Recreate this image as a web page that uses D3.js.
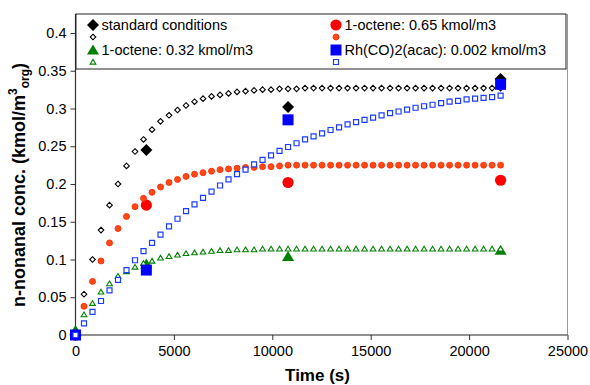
<!DOCTYPE html>
<html>
<head>
<meta charset="utf-8">
<script src="https://cdn.jsdelivr.net/npm/d3@7"></script>
<style>
  body { margin: 0; background: #fff; }
  svg { display: block; font-family: "Liberation Sans", Arial, sans-serif; }
</style>
</head>
<body>
<svg id="chart" width="590" height="385"></svg>
<script>
// measured points (large markers)
const expTime = [0, 3600, 10800, 21600];
const expStandard = [0, 0.245, 0.302, 0.339];
const expOct065 = [0, 0.172, 0.202, 0.205];
const expOct032 = [0.006, 0.094, 0.104, 0.112];
const expRh = [0, 0.086, 0.285, 0.332];

// model points (small markers)
const modelTime = [0, 432, 864, 1296, 1728, 2160, 2592, 3024, 3456, 3888,
  4320, 4752, 5184, 5616, 6048, 6480, 6912, 7344, 7776, 8208,
  8640, 9072, 9504, 9936, 10368, 10800, 11232, 11664, 12096, 12528,
  12960, 13392, 13824, 14256, 14688, 15120, 15552, 15984, 16416, 16848,
  17280, 17712, 18144, 18576, 19008, 19440, 19872, 20304, 20736, 21168, 21600];
const modelStandard = [0, 0.054, 0.100, 0.139, 0.172, 0.200, 0.224, 0.243, 0.259, 0.272,
  0.283, 0.291, 0.298, 0.304, 0.309, 0.313, 0.316, 0.318, 0.320, 0.322,
  0.323, 0.324, 0.325, 0.325, 0.326, 0.326, 0.326, 0.327, 0.327, 0.327,
  0.327, 0.327, 0.327, 0.327, 0.327, 0.327, 0.327, 0.327, 0.327, 0.327,
  0.327, 0.327, 0.327, 0.327, 0.327, 0.327, 0.327, 0.327, 0.327, 0.327, 0.327];
const modelOct065 = [0, 0.038, 0.071, 0.098, 0.122, 0.141, 0.157, 0.170, 0.181, 0.189,
  0.196, 0.202, 0.206, 0.210, 0.213, 0.215, 0.217, 0.219, 0.220, 0.221,
  0.222, 0.222, 0.223, 0.223, 0.224, 0.225, 0.225, 0.225, 0.225, 0.225,
  0.225, 0.225, 0.225, 0.225, 0.225, 0.225, 0.225, 0.225, 0.225, 0.225,
  0.225, 0.225, 0.225, 0.225, 0.225, 0.225, 0.225, 0.225, 0.225, 0.225, 0.225];
const modelOct032 = [0, 0.027, 0.042, 0.057, 0.068, 0.078, 0.084, 0.090, 0.095, 0.098,
  0.102, 0.104, 0.106, 0.108, 0.109, 0.110, 0.111, 0.112, 0.112, 0.113,
  0.113, 0.113, 0.114, 0.114, 0.114, 0.114, 0.114, 0.114, 0.114, 0.114,
  0.114, 0.114, 0.114, 0.114, 0.114, 0.114, 0.114, 0.114, 0.114, 0.114,
  0.114, 0.114, 0.114, 0.114, 0.114, 0.114, 0.114, 0.114, 0.114, 0.114, 0.114];
const modelRh = [0, 0.0155, 0.0305, 0.045, 0.059, 0.073, 0.086, 0.099, 0.111, 0.122,
  0.133, 0.144, 0.154, 0.164, 0.173, 0.1815, 0.190, 0.198, 0.206, 0.213,
  0.219, 0.226, 0.232, 0.238, 0.244, 0.249, 0.254, 0.259, 0.263, 0.267,
  0.2715, 0.275, 0.279, 0.282, 0.285, 0.288, 0.291, 0.294, 0.296, 0.2985,
  0.301, 0.303, 0.305, 0.307, 0.309, 0.310, 0.312, 0.313, 0.314, 0.315, 0.317];

const xTicks = [0, 5000, 10000, 15000, 20000, 25000];
const yTicks = [0, 0.05, 0.1, 0.15, 0.2, 0.25, 0.3, 0.35, 0.4];
const legendLabels = ["standard conditions", "1-octene: 0.65 kmol/m3",
  "1-octene: 0.32 kmol/m3", "Rh(CO)2(acac): 0.002 kmol/m3"];

const svg = d3.select("#chart");
const left = 75.5, right = 567.5, bottom = 335, frameTop = 14;
const x = d3.scaleLinear().domain([0, 25000]).range([left, right]);
const y = d3.scaleLinear().domain([0, 0.4]).range([bottom, 33]);

// marker shapes
const shapes = {
  diamond: (s) => `M0,${-s}L${s},0L0,${s}L${-s},0Z`,
  square: (s) => `M${-s},${-s}H${s}V${s}H${-s}Z`,
  triangle: (s) => `M0,${-s}L${s * 1.1},${s * 0.8}L${-s * 1.1},${s * 0.8}Z`,
  circle: (r) => `M${r},0A${r},${r} 0 1,1 ${-r},0A${r},${r} 0 1,1 ${r},0Z`,
};

const styles = {
  stdBig: { shape: "diamond", size: 6, fill: "#000", stroke: "none", sw: 0 },
  stdSmall: { shape: "diamond", size: 2.8, fill: "#fff", stroke: "#000", sw: 1.1 },
  o65Big: { shape: "circle", size: 5.6, fill: "#ff0000", stroke: "none", sw: 0 },
  o65Small: { shape: "circle", size: 3, fill: "#ff4a14", stroke: "#ff2200", sw: 0.8 },
  o32Big: { shape: "triangle", size: 5.5, fill: "#008000", stroke: "none", sw: 0 },
  o32Small: { shape: "triangle", size: 2.6, fill: "#fff", stroke: "#008000", sw: 1.1 },
  rhBig: { shape: "square", size: 5.5, fill: "#0000ff", stroke: "none", sw: 0 },
  rhSmall: { shape: "square", size: 2.5, fill: "#fff", stroke: "#1a3cff", sw: 1.2 },
};

function drawMarker(sel, st) {
  return sel.append("path")
    .attr("d", shapes[st.shape](st.size))
    .attr("fill", st.fill)
    .attr("stroke", st.stroke)
    .attr("stroke-width", st.sw);
}

// frame
svg.append("line").attr("x1", right).attr("x2", right).attr("y1", frameTop).attr("y2", bottom)
  .attr("stroke", "#9a9a9a").attr("stroke-width", 1);

// axes
const xAxis = svg.append("g").attr("transform", `translate(0,${bottom})`)
  .call(d3.axisBottom(x).tickValues(xTicks).tickSize(5).tickPadding(6).tickFormat(d3.format("d")));
const yAxis = svg.append("g").attr("transform", `translate(${left},0)`)
  .call(d3.axisLeft(y).tickValues(yTicks).tickSize(5).tickPadding(4).tickFormat((d) => String(+d.toFixed(2))));
[xAxis, yAxis].forEach((g) => {
  g.select(".domain").remove();
  g.selectAll(".tick line").attr("stroke", "#333");
  g.selectAll(".tick text").attr("font-size", 14.5).attr("fill", "#000")
    .attr("font-family", "'Liberation Sans', Arial, sans-serif");
});
svg.append("line").attr("x1", left).attr("x2", left).attr("y1", frameTop).attr("y2", bottom)
  .attr("stroke", "#333").attr("stroke-width", 1.2);
svg.append("line").attr("x1", left).attr("x2", right).attr("y1", bottom).attr("y2", bottom)
  .attr("stroke", "#222").attr("stroke-width", 1.2);

// series, in drawing order
const series = [
  { t: expTime, v: expStandard, st: styles.stdBig },
  { t: modelTime, v: modelStandard, st: styles.stdSmall },
  { t: expTime, v: expOct065, st: styles.o65Big },
  { t: modelTime, v: modelOct065, st: styles.o65Small },
  { t: expTime, v: expOct032, st: styles.o32Big },
  { t: modelTime, v: modelOct032, st: styles.o32Small },
  { t: expTime, v: expRh, st: styles.rhBig },
  { t: modelTime, v: modelRh, st: styles.rhSmall },
];

series.forEach((s) => {
  const g = svg.append("g");
  s.t.forEach((t, i) => {
    drawMarker(g, s.st).attr("transform", `translate(${x(t)},${y(s.v[i])})`);
  });
});

// legend
const legend = svg.append("g");
legend.append("rect").attr("x", 76).attr("y", frameTop).attr("width", 490).attr("height", 55)
  .attr("fill", "#fff").attr("stroke", "#222").attr("stroke-width", 1);
const legendItems = [
  { label: legendLabels[0], big: styles.stdBig, small: styles.stdSmall, col: 0, row: 0 },
  { label: legendLabels[1], big: styles.o65Big, small: styles.o65Small, col: 1, row: 0 },
  { label: legendLabels[2], big: styles.o32Big, small: styles.o32Small, col: 0, row: 1 },
  { label: legendLabels[3], big: styles.rhBig, small: styles.rhSmall, col: 1, row: 1 },
];
legendItems.forEach((it) => {
  const mx = it.col === 0 ? 93 : 336;
  const my = 25 + it.row * 25;
  drawMarker(legend, it.big).attr("transform", `translate(${mx},${my})`);
  drawMarker(legend, it.small).attr("transform", `translate(${mx},${my + 12})`);
  legend.append("text").attr("x", mx + 8.5).attr("y", my + 5)
    .attr("font-size", 14.5).attr("fill", "#000").text(it.label);
});

// axis titles
svg.append("text").attr("x", (left + right) / 2 - 4).attr("y", 381)
  .attr("text-anchor", "middle").attr("font-size", 17).attr("font-weight", "bold")
  .text("Time (s)");

const yTitle = svg.append("text")
  .attr("transform", "translate(25,185) rotate(-90)")
  .attr("text-anchor", "middle").attr("font-size", 18).attr("font-weight", "bold");
yTitle.append("tspan").text("n-nonanal conc. (kmol/m");
yTitle.append("tspan").attr("font-size", 12).attr("dy", -8).text("3");
yTitle.append("tspan").attr("font-size", 12).attr("dy", 12).text("org");
yTitle.append("tspan").attr("dy", -4).text(")");
</script>
</body>
</html>
